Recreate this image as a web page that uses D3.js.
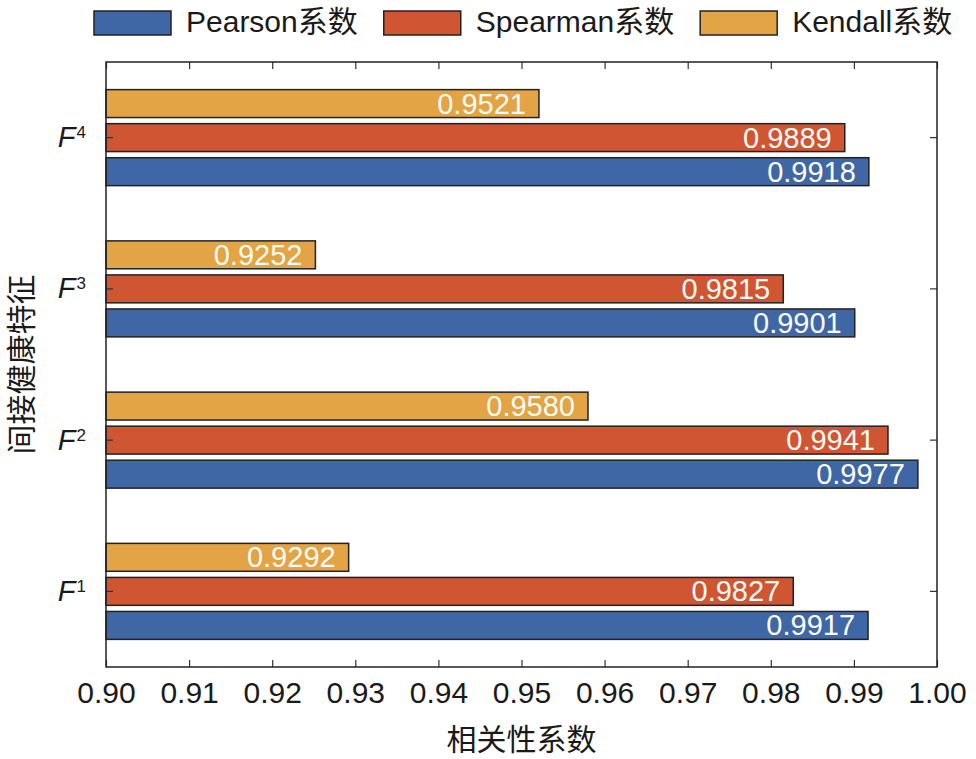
<!DOCTYPE html>
<html>
<head>
<meta charset="utf-8">
<script src="https://cdn.jsdelivr.net/npm/d3@7"></script>
<style>
  body { margin: 0; background: #fff; }
  text { font-family: "Liberation Sans", Arial, "Noto Sans CJK SC", sans-serif; }
</style>
</head>
<body>
<svg id="main_chart" width="976" height="759"></svg>
<script>
// data
const features = ["F1", "F2", "F3", "F4"];
const featureNums = ["1", "2", "3", "4"];
const seriesNames = ["Pearson系数", "Spearman系数", "Kendall系数"];
const pearson = [0.9917, 0.9977, 0.9901, 0.9918];
const spearman = [0.9827, 0.9941, 0.9815, 0.9889];
const kendall = [0.9292, 0.9580, 0.9252, 0.9521];
const xTicks = [0.90, 0.91, 0.92, 0.93, 0.94, 0.95, 0.96, 0.97, 0.98, 0.99, 1.00];
const colors = ["#3f67a5", "#cf5533", "#e2a445"];

const seriesData = [pearson, spearman, kendall];

let svg = d3.select("#main_chart");
const plotLeft = 106, plotRight = 937, plotTop = 62, plotBottom = 667;

let xScale = d3.scaleLinear()
    .domain([0.90, 1.00])
    .range([plotLeft, plotRight]);

// F4 at top, F1 at bottom
let yScale = d3.scaleBand()
    .domain(features.slice().reverse())
    .range([plotTop, plotBottom])
    .paddingInner(0)
    .paddingOuter(0);

// Kendall on top inside each group, Pearson at bottom
let subScale = d3.scaleBand()
    .domain([2, 1, 0])
    .range([-48, 48])
    .paddingInner(0.18)
    .paddingOuter(0);

let chart = svg.append("g");

// bars
seriesData.forEach(function(vals, s) {
    let rows = features.map((f, i) => ({f: f, v: vals[i], s: s}));
    let g = chart.append("g");
    g.selectAll("rect")
        .data(rows)
        .enter().append("rect")
        .attr("x", xScale(0.90))
        .attr("y", d => yScale(d.f) + yScale.bandwidth() / 2 + subScale(d.s))
        .attr("width", d => xScale(d.v) - xScale(0.90))
        .attr("height", subScale.bandwidth())
        .attr("fill", colors[s])
        .attr("stroke", "#222")
        .attr("stroke-width", 1.5);
    g.selectAll("text")
        .data(rows)
        .enter().append("text")
        .attr("x", d => xScale(d.v) - 13)
        .attr("y", d => yScale(d.f) + yScale.bandwidth() / 2 + subScale(d.s) + subScale.bandwidth() / 2 + 10)
        .attr("text-anchor", "end")
        .attr("font-size", 29)
        .attr("fill", "#fdfbf6")
        .text(d => d.v.toFixed(4));
});

//axes, ticks pointing inward
let bottomAxis = svg.append("g")
    .attr("transform", "translate(0," + plotBottom + ")")
    .call(d3.axisBottom(xScale)
        .tickValues(xTicks)
        .tickSizeInner(-7)
        .tickSizeOuter(0)
        .tickFormat(d3.format(".2f")));
bottomAxis.selectAll("text")
    .attr("y", 36)
    .attr("dy", 0)
    .attr("font-size", 30)
    .attr("font-family", "'Liberation Sans', Arial, sans-serif")
    .attr("fill", "#1a1a1a");

svg.append("g")
    .attr("transform", "translate(0," + plotTop + ")")
    .call(d3.axisTop(xScale)
        .tickValues(xTicks)
        .tickSizeInner(-7)
        .tickSizeOuter(0)
        .tickFormat(""));

svg.append("g")
    .attr("transform", "translate(" + plotRight + ",0)")
    .call(d3.axisRight(yScale)
        .tickSizeInner(-7)
        .tickSizeOuter(0)
        .tickFormat(""));

let leftAxis = svg.append("g")
    .attr("transform", "translate(" + plotLeft + ",0)")
    .call(d3.axisLeft(yScale)
        .tickSizeInner(-7)
        .tickSizeOuter(0)
        .tickFormat(""));
leftAxis.raise();

// F with superscript index
leftAxis.selectAll(".tick").each(function(d) {
    let t = d3.select(this).append("text")
        .attr("x", -20)
        .attr("y", 9.5)
        .attr("text-anchor", "end")
        .attr("fill", "#1a1a1a")
        .attr("font-family", "'Liberation Sans', Arial, sans-serif");
    t.append("tspan")
        .attr("font-size", 29)
        .attr("font-style", "italic")
        .text("F");
    t.append("tspan")
        .attr("font-size", 17)
        .attr("dy", -9)
        .attr("dx", 1)
        .text(featureNums[features.indexOf(d)]);
});

svg.selectAll(".domain").remove();
svg.selectAll(".tick line").attr("stroke", "#333").attr("stroke-width", 1.2);

// frame
svg.append("rect")
    .attr("x", plotLeft)
    .attr("y", plotTop)
    .attr("width", plotRight - plotLeft)
    .attr("height", plotBottom - plotTop)
    .attr("fill", "none")
    .attr("stroke", "#222")
    .attr("stroke-width", 1.5);

// axis titles
svg.append("text")
    .attr("x", (plotLeft + plotRight) / 2)
    .attr("y", 750)
    .attr("text-anchor", "middle")
    .attr("font-size", 30)
    .attr("fill", "#1a1a1a")
    .text("相关性系数");

svg.append("text")
    .attr("transform", "translate(32," + ((plotTop + plotBottom) / 2) + ") rotate(-90)")
    .attr("text-anchor", "middle")
    .attr("font-size", 30)
    .attr("fill", "#1a1a1a")
    .text("间接健康特征");

// legend
let legend = svg.append("g");
let lx = 94;
seriesNames.forEach(function(name, s) {
    legend.append("rect")
        .attr("x", lx)
        .attr("y", 11)
        .attr("width", 77)
        .attr("height", 24)
        .attr("fill", colors[s])
        .attr("stroke", "#222")
        .attr("stroke-width", 1.5);
    let t = legend.append("text")
        .attr("x", lx + 92)
        .attr("y", 32)
        .attr("font-size", 30)
        .attr("fill", "#1a1a1a")
        .text(name);
    lx = lx + 92 + t.node().getComputedTextLength() + 26;
});
</script>
</body>
</html>
